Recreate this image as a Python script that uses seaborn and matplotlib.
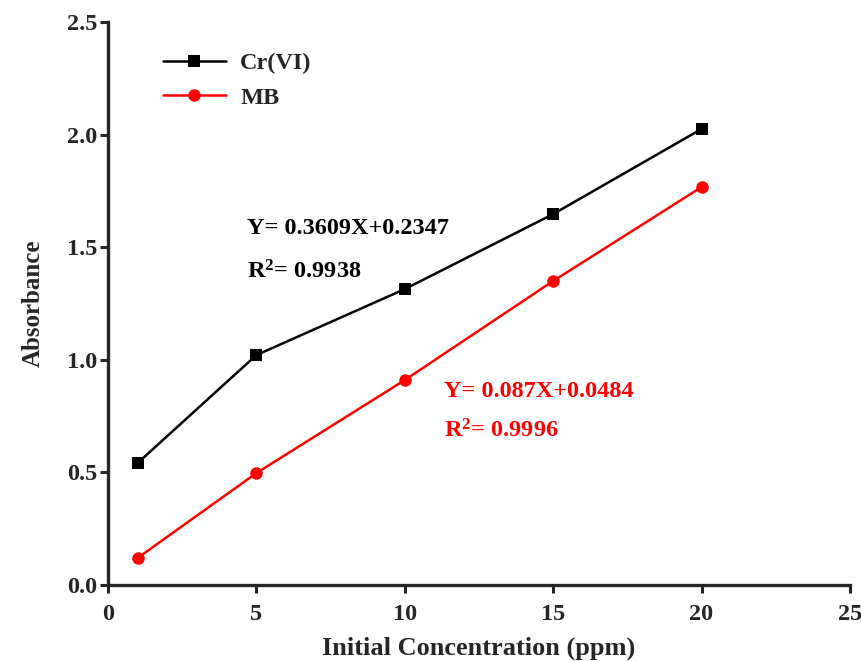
import matplotlib
matplotlib.use("Agg")
import matplotlib.pyplot as plt
import seaborn as sns
import pandas as pd

conc = [1, 5, 10, 15, 20]
cr_vi = [0.542, 1.021, 1.314, 1.647, 2.025]
mb = [0.120, 0.497, 0.910, 1.350, 1.767]
series_names = ["Cr(VI)", "MB"]

sns.set_theme(style="ticks")
plt.rcParams['font.family'] = ['Liberation Serif', 'DejaVu Serif']
plt.rcParams['font.weight'] = 'bold'
plt.rcParams['mathtext.fontset'] = 'custom'
plt.rcParams['mathtext.rm'] = 'Liberation Serif:bold'
plt.rcParams['mathtext.bf'] = 'Liberation Serif:bold'
plt.rcParams['mathtext.it'] = 'Liberation Serif:bold'

df = pd.DataFrame({
    "conc": conc * 2,
    "abs": cr_vi + mb,
    "series": [series_names[0]] * len(conc) + [series_names[1]] * len(conc),
})

fig = plt.figure(figsize=(8.62, 6.61), dpi=100)
ax = fig.add_axes([0.1253, 0.115, 0.8607, 0.8517])

sns.lineplot(data=df, x="conc", y="abs", hue="series", style="series",
             palette={"Cr(VI)": "black", "MB": "red"},
             markers={"Cr(VI)": "s", "MB": "o"}, dashes=False,
             markersize=9, linewidth=1.8, markeredgewidth=0, ax=ax)

ax.set_xlim(0, 25)
ax.set_ylim(0, 2.5)
ax.set_xticks([0, 5, 10, 15, 20, 25])
ax.set_yticks([0.0, 0.5, 1.0, 1.5, 2.0, 2.5])
ax.set_yticklabels(["0.0", "0.5", "1.0", "1.5", "2.0", "2.5"])
ax.set_xlabel("Initial Concentration (ppm)", fontsize=19, fontweight='bold', labelpad=8)
ax.set_ylabel("Absorbance", fontsize=18, fontweight='bold', labelpad=16)
ax.tick_params(axis='both', labelsize=17.5, width=2.2, length=6, direction='out')
ax.tick_params(axis='x', pad=8)
ax.tick_params(axis='y', pad=1.5)
for lbl in ax.get_xticklabels() + ax.get_yticklabels():
    lbl.set_fontweight('bold')
for s in ["left", "bottom"]:
    ax.spines[s].set_linewidth(2.4)
sns.despine(ax=ax)

leg = ax.legend(loc="upper left", bbox_to_anchor=(0.044, 0.985), frameon=False,
                handlelength=2.6, handletextpad=0.6, labelspacing=0.5,
                prop={'weight': 'bold', 'size': 17.5})

ax.text(0.187, 0.634, "Y= 0.3609X+0.2347", transform=ax.transAxes, va='center',
        fontsize=17.5, fontweight='bold', color='black')
ax.text(0.187, 0.557, r"R$^{2}$= 0.9938", transform=ax.transAxes, va='center',
        fontsize=17.5, fontweight='bold', color='black')
ax.text(0.453, 0.343, "Y= 0.087X+0.0484", transform=ax.transAxes, va='center',
        fontsize=17.5, fontweight='bold', color='red')
ax.text(0.453, 0.273, r"R$^{2}$= 0.9996", transform=ax.transAxes, va='center',
        fontsize=17.5, fontweight='bold', color='red')

fig.savefig("out.png", dpi=100)
